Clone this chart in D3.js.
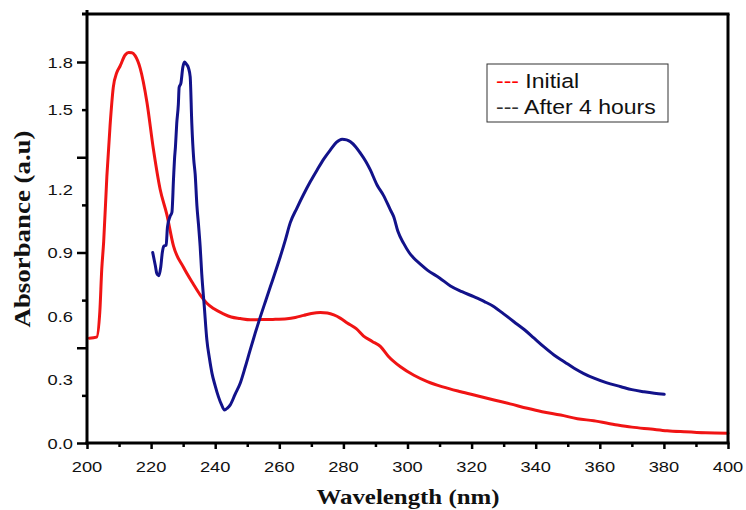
<!DOCTYPE html>
<html><head><meta charset="utf-8">
<script src="https://cdn.jsdelivr.net/npm/d3@7"></script>
<style>
html,body{margin:0;padding:0;background:#fff;}
svg{display:block;}
</style></head>
<body>
<svg id="chart" width="746" height="510"></svg>
<script>
// ---- data ----
const initialWavelength = [200.7,203.0,204.0,204.6,205.2,206.2,207.2,208.2,209.3,210.3,211.9,213.0,214.0,215.0,216.6,218.7,220.7,222.8,224.9,227.0,230.1,233.2,235.3,237.4,239.5,242.6,245,247.8,251,254.1,258,262.4,265,267.6,270,272.8,275,277.0,279,281.2,284,286.3,289,291.6,294,297.8,302,306.2,311,316.6,322,327.0,332,337.4,342,347.8,353,358.1,365.5,370,375.9,381,386.3,393,400];
const initialAbs = [0.495,0.50,0.62,0.82,0.95,1.26,1.50,1.68,1.75,1.78,1.833,1.845,1.844,1.83,1.77,1.61,1.39,1.20,1.08,0.93,0.83,0.75,0.70,0.66,0.635,0.61,0.595,0.588,0.582,0.583,0.584,0.587,0.593,0.603,0.612,0.617,0.614,0.605,0.59,0.567,0.54,0.505,0.48,0.455,0.41,0.36,0.32,0.29,0.265,0.242,0.222,0.203,0.185,0.164,0.148,0.132,0.115,0.105,0.085,0.075,0.066,0.058,0.053,0.048,0.046];

const afterWavelength = [220.5,221.3,221.8,222.4,223.0,223.5,224.0,224.7,225.1,225.9,226.5,227.0,227.3,227.6,228.0,228.5,228.75,229.3,229.9,230.4,231.0,231.7,232.2,232.7,233.3,233.75,234.3,234.8,235.3,235.8,236.6,237.4,238.2,239.0,240.0,241.0,242.0,242.9,243.8,244.7,246.2,247.8,249.4,250.9,252.5,254.1,255.7,257.2,258.8,260.3,261.9,263.4,265.5,267.6,269.7,271.8,273.8,275.9,277.8,279.6,281,282.2,283.8,285.3,287,288.4,290.5,292.5,294.7,295.7,297,298.8,300.5,302.0,304,306.2,310,313.4,317,320.7,324,327.0,330,333.2,336.5,339.5,342.5,345.7,349,352.0,355,358.2,362,366.6,370,373.8,377,380.1];
const afterAbs = [0.90,0.84,0.80,0.79,0.83,0.90,0.93,0.935,1.02,1.07,1.09,1.25,1.34,1.40,1.51,1.60,1.68,1.70,1.775,1.80,1.79,1.77,1.73,1.51,1.34,1.27,1.12,1.03,0.93,0.80,0.644,0.487,0.40,0.329,0.27,0.219,0.18,0.156,0.165,0.18,0.23,0.282,0.36,0.439,0.52,0.597,0.67,0.738,0.81,0.88,0.96,1.04,1.11,1.175,1.235,1.29,1.34,1.384,1.42,1.435,1.432,1.423,1.40,1.369,1.33,1.29,1.219,1.17,1.10,1.069,1.00,0.943,0.90,0.873,0.845,0.817,0.78,0.742,0.715,0.691,0.668,0.644,0.61,0.573,0.535,0.495,0.455,0.416,0.383,0.353,0.328,0.306,0.285,0.266,0.252,0.242,0.235,0.23];

const xTickValues = [200,220,240,260,280,300,320,340,360,380,400];
const xMinorTicks = [210,230,250,270,290,310,330,350,370,390];
const yMajorTicks = [0,0.45,0.9,1.35,1.8];
const yMinorTicks = [0.225,0.675,1.125,1.575];
const yTickLabels = ["0.0","0.3","0.6","0.9","1.2","1.5","1.8"];
const yTickLabelValues = [0,0.3,0.6,0.9,1.2,1.575,1.8];
const seriesNames = ["Initial","After 4 hours"];
const seriesColors = ["#f01414","#12128a"];
const legendDashColors = ["#ff0000","#333333"];

// ---- layout ----
const svg = d3.select("#chart");
const pLeft = 87, pRight = 728, pTop = 14, pBottom = 443;
const x = d3.scaleLinear().domain([200,400]).range([pLeft,pRight]);
const y = d3.scaleLinear().domain([0,1.8]).range([pBottom,62]);
const SX = 1.18;

// curves
const line = d3.line().x(d=>x(d[0])).y(d=>y(d[1])).curve(d3.curveMonotoneX);
const series = [
  d3.zip(initialWavelength, initialAbs),
  d3.zip(afterWavelength, afterAbs)
];
series.forEach((s,i)=>{
  svg.append("path").datum(s)
    .attr("d", line)
    .attr("fill","none")
    .attr("stroke", seriesColors[i])
    .attr("stroke-width", 3)
    .attr("stroke-linejoin","round")
    .attr("stroke-linecap","round");
});

// axes ticks
const gx = svg.append("g").attr("transform",`translate(0,${pBottom})`);
gx.call(d3.axisBottom(x).tickValues(xTickValues).tickSize(6).tickFormat(""));
const gx2 = svg.append("g").attr("transform",`translate(0,${pBottom})`);
gx2.call(d3.axisBottom(x).tickValues(xMinorTicks).tickSize(4).tickFormat(""));
const gy = svg.append("g").attr("transform",`translate(${pLeft},0)`);
gy.call(d3.axisLeft(y).tickValues(yMajorTicks).tickSize(10).tickFormat(""));
const gy2 = svg.append("g").attr("transform",`translate(${pLeft},0)`);
gy2.call(d3.axisLeft(y).tickValues(yMinorTicks).tickSize(5).tickFormat(""));
[gx,gx2,gy,gy2].forEach(g=>{
  g.select(".domain").remove();
  g.selectAll(".tick line").attr("stroke","#000").attr("stroke-width",2.5);
});

// frame
svg.append("line").attr("x1",pLeft).attr("x2",pLeft).attr("y1",10).attr("y2",pBottom+1.5)
  .attr("stroke","#000").attr("stroke-width",3);
svg.append("line").attr("x1",pLeft-1.5).attr("x2",pRight+1.5).attr("y1",pBottom).attr("y2",pBottom)
  .attr("stroke","#000").attr("stroke-width",3);
svg.append("line").attr("x1",82).attr("x2",pRight+1.5).attr("y1",pTop).attr("y2",pTop)
  .attr("stroke","#000").attr("stroke-width",3);
svg.append("line").attr("x1",pRight).attr("x2",pRight).attr("y1",pTop).attr("y2",pBottom)
  .attr("stroke","#000").attr("stroke-width",3);

// tick labels
const lblFont = "'Liberation Sans', Arial, sans-serif";
xTickValues.forEach(v=>{
  svg.append("text")
    .attr("transform",`translate(${x(v)},${pBottom+29}) scale(${SX},1)`)
    .attr("text-anchor","middle")
    .attr("font-family",lblFont).attr("font-size",15.5).attr("fill","#111")
    .text(String(v));
});
yTickLabels.forEach((t,i)=>{
  svg.append("text")
    .attr("transform",`translate(73,${y(yTickLabelValues[i])+5.5}) scale(${SX},1)`)
    .attr("text-anchor","end")
    .attr("font-family",lblFont).attr("font-size",15.5).attr("fill","#111")
    .text(t);
});

// axis titles
const titleFont = "'Liberation Serif', 'Times New Roman', serif";
svg.append("text")
  .attr("x",408).attr("y",504)
  .attr("text-anchor","middle")
  .attr("font-family",titleFont).attr("font-weight","bold").attr("font-size",22)
  .attr("textLength",183).attr("lengthAdjust","spacingAndGlyphs")
  .attr("fill","#111")
  .text("Wavelength (nm)");
svg.append("text")
  .attr("transform","translate(30,229) rotate(-90)")
  .attr("text-anchor","middle")
  .attr("font-family",titleFont).attr("font-weight","bold").attr("font-size",23)
  .attr("textLength",197).attr("lengthAdjust","spacingAndGlyphs")
  .attr("fill","#111")
  .text("Absorbance (a.u)");

// legend
svg.append("rect").attr("x",487).attr("y",64).attr("width",181).attr("height",58)
  .attr("fill","#fff").attr("stroke","#333").attr("stroke-width",1);
seriesNames.forEach((n,i)=>{
  const t = svg.append("text")
    .attr("transform",`translate(496,${88+i*26}) scale(${SX},1)`)
    .attr("font-family",lblFont).attr("font-size",19.5).attr("fill","#111");
  t.append("tspan").attr("fill",legendDashColors[i]).text("---");
  t.append("tspan").text(" " + n);
});
</script>
</body></html>
